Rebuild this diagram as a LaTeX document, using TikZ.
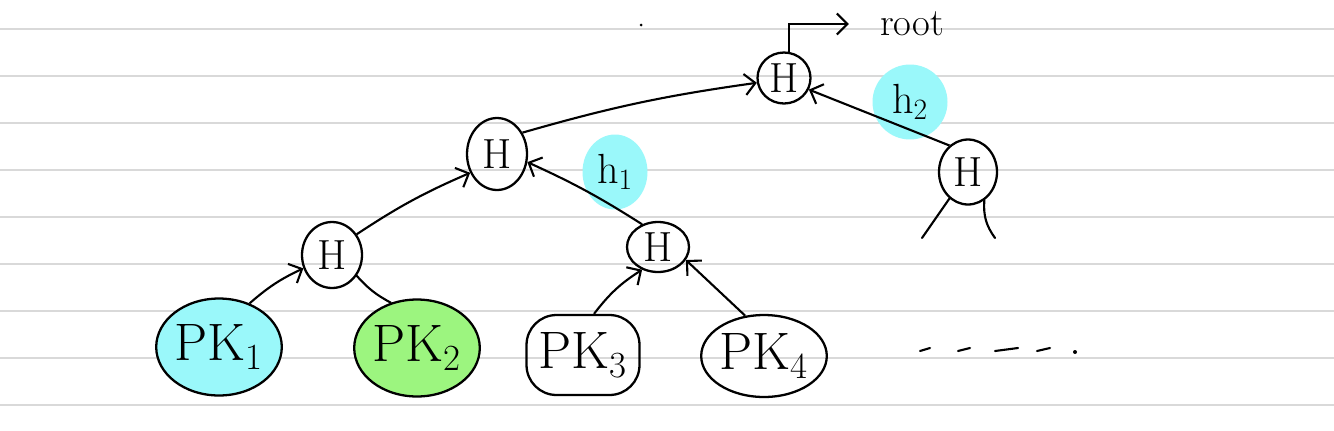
\documentclass[tikz,border=0pt]{standalone}
\usepackage{fontspec}
\usetikzlibrary{shapes.geometric,arrows.meta}
\definecolor{hlcyan}{HTML}{9AF8FA}
\definecolor{hlgreen}{HTML}{9CF57F}
\definecolor{ruling}{HTML}{D9D9D9}
\tikzset{
  hnode/.style={draw, ellipse, line width=1.3pt, inner sep=0pt,
    minimum width=1.15cm, minimum height=1.25cm, font=\fontsize{24}{28}\selectfont},
  pknode/.style={draw, ellipse, line width=1.3pt, inner sep=0pt,
    minimum width=2.2cm, minimum height=1.9cm, font=\fontsize{30}{34}\selectfont},
  pkbox/.style={pknode, rectangle, rounded corners=0.6cm},
  blob/.style={ellipse, fill=hlcyan, inner sep=0pt,
    minimum width=1.3cm, minimum height=1.5cm, font=\fontsize{24}{28}\selectfont},
  arr/.style={-{Straight Barb[length=6pt,width=12pt]}, line width=1.2pt},
  stub/.style={line width=1.2pt, line cap=round},
}

\begin{document}
\begin{tikzpicture}[x=0.02cm, y=-0.02cm]
  % The ruled paper
  \useasboundingbox (0,0) rectangle (1334,430);
  \fill[white] (0,0) rectangle (1334,430);
  \foreach \yy in {29,76,...,406}
    \draw[ruling, line width=1pt] (0,\yy) -- (1334,\yy);

  % Highlighted labels h1, h2
  \node[blob] (hone) at (615,172) {h\textsubscript{1}};
  \node[blob, minimum width=1.5cm] (htwo) at (910,102) {h\textsubscript{2}};

  % The leaves PK1 ... PK4
  \node[pknode, fill=hlcyan, minimum width=2.3cm, minimum height=1.94cm] (pk1) at (219,347) {PK\textsubscript{1}};
  \node[pknode, fill=hlgreen, minimum width=2.1cm, minimum height=1.94cm] (pk2) at (417,348) {PK\textsubscript{2}};
  \node[pkbox, minimum width=2.26cm, minimum height=1.6cm] (pk3) at (583,355) {PK\textsubscript{3}};
  \node[pknode, minimum width=2.24cm, minimum height=1.64cm] (pk4) at (764,356) {PK\textsubscript{4}};

  % The hash nodes
  \node[hnode, minimum width=1.2cm, minimum height=1.32cm] (h3l) at (332,255) {H};
  \node[hnode, minimum width=1.24cm, minimum height=1.0cm] (h3r) at (658,247) {H};
  \node[hnode, minimum width=1.2cm, minimum height=1.44cm] (h2l) at (497,154) {H};
  \node[hnode, minimum width=1.16cm, minimum height=1.3cm] (h2r) at (968,172) {H};
  \node[hnode, minimum width=1.06cm, minimum height=1.02cm] (root) at (784,78) {H};
  \node[font=\fontsize{22}{26}\selectfont] (rootlbl) at (912,24) {root};

  % Connectors
  \draw[arr] (pk1.55) to[bend left=8] (h3l.205);
  \draw[stub] (h3l.-40) to[bend right=10] (pk2.120);
  \draw[arr] (h3l.40) to[bend left=5] (h2l.215);
  \draw[arr] (pk3.75) to[bend left=10] (h3r.235);
  \draw[arr] (pk4.115) to (h3r.-25);
  \draw[arr] (h3r.125) to[bend right=4] (h2l.-15);
  \draw[arr] (h2l.40) to[bend left=4] (root.190);
  \draw[arr] (h2r.125) to (root.-25);
  \draw[arr, shorten >=0.5cm] (root.80) |- (rootlbl.west);

  % Stubs below the right subtree
  \coordinate (cl) at (922,238);
  \coordinate (cr) at (995,238);
  \draw[stub] (h2r.235) -- (cl);
  \draw[stub] (h2r.-60) to[bend right=20] (cr);

  % The remaining leaves
  \foreach \xa/\xb in {920/930, 958/970, 995/1018, 1037/1050}
    \draw[stub] (\xa,351) -- (\xb,348);
  \fill (1075,352) circle (2);
  \fill (641,25) circle (1.5);
\end{tikzpicture}
\end{document}
